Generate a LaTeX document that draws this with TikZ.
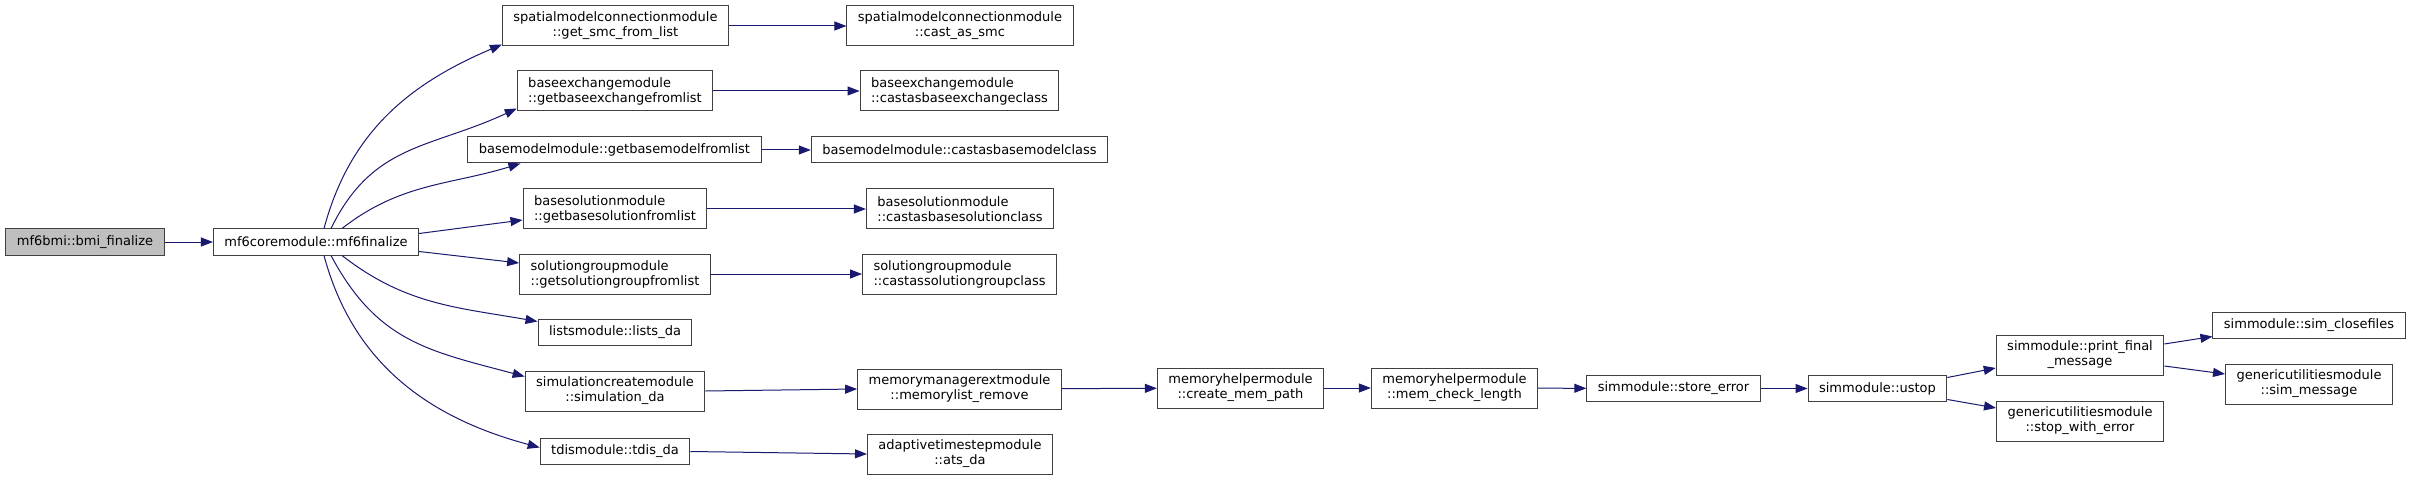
\documentclass[tikz,border=0pt]{standalone}
\usepackage{fontspec}
\setmainfont{DejaVu Sans}
\usetikzlibrary{arrows.meta}
\definecolor{edgeblue}{RGB}{25,25,112}
\definecolor{nodegray}{RGB}{191,191,191}
\tikzset{
  fn/.style={draw=black!75,line width=1pt,fill=white,inner xsep=11pt,inner ysep=3pt,
    minimum height=26pt,align=center,font=\fontsize{13}{15}\selectfont},
  fntall/.style={fn,minimum height=40pt},
  fnleft/.style={fntall,align=left},
  call/.style={draw=edgeblue,line width=1pt,-{Triangle[length=12pt,width=9pt]}}
}
\begin{document}
\begin{tikzpicture}[x=1pt,y=1pt]
  \useasboundingbox[fill=white] (0,0) rectangle (2412,480);
  \node[fn,fill=nodegray] (bmi) at (85,238) {mf6bmi::bmi\_finalize};
  \node[fn] (mf6) at (316,238) {mf6coremodule::mf6finalize};
  \node[fntall] (getsmc) at (615.5,454) {spatialmodelconnectionmodule\\::get\_smc\_from\_list};
  \node[fnleft] (getbex) at (615,389) {baseexchangemodule\\::getbaseexchangefromlist};
  \node[fn] (getbm) at (614.5,330) {basemodelmodule::getbasemodelfromlist};
  \node[fnleft] (getbs) at (615,271) {basesolutionmodule\\::getbasesolutionfromlist};
  \node[fnleft] (getsg) at (615,206) {solutiongroupmodule\\::getsolutiongroupfromlist};
  \node[fn] (lists) at (615,148) {listsmodule::lists\_da};
  \node[fntall] (simda) at (615,89) {simulationcreatemodule\\::simulation\_da};
  \node[fn] (tdis) at (615,28.5) {tdismodule::tdis\_da};
  \node[fntall] (castsmc) at (960,454) {spatialmodelconnectionmodule\\::cast\_as\_smc};
  \node[fnleft] (castbex) at (959.5,389) {baseexchangemodule\\::castasbaseexchangeclass};
  \node[fn] (castbm) at (959.5,330) {basemodelmodule::castasbasemodelclass};
  \node[fnleft] (castbs) at (960,271) {basesolutionmodule\\::castasbasesolutionclass};
  \node[fnleft] (castsg) at (959.5,206) {solutiongroupmodule\\::castassolutiongroupclass};
  \node[fntall] (memrm) at (959.5,91) {memorymanagerextmodule\\::memorylist\_remove};
  \node[fntall] (atsda) at (960,26) {adaptivetimestepmodule\\::ats\_da};
  \node[fntall] (mempath) at (1240.5,92) {memoryhelpermodule\\::create\_mem\_path};
  \node[fntall] (memlen) at (1454.5,92) {memoryhelpermodule\\::mem\_check\_length};
  \node[fn] (storeerr) at (1673.5,91.5) {simmodule::store\_error};
  \node[fn] (ustop) at (1877.5,91.5) {simmodule::ustop};
  \node[fntall] (finalmsg) at (2080,125) {simmodule::print\_final\\\_message};
  \node[fntall] (stoperr) at (2080,59) {genericutilitiesmodule\\::stop\_with\_error};
  \node[fn] (closefiles) at (2309,154.5) {simmodule::sim\_closefiles};
  \node[fntall] (simmsg) at (2309,96) {genericutilitiesmodule\\::sim\_message};
  \draw[call] (bmi) -- (mf6);
  \draw[call] ([xshift=8pt]mf6.north) to[out=75,in=203] ([yshift=2pt]getsmc.south west);
  \draw[call] ([xshift=15pt]mf6.north) to[out=64,in=205,looseness=1.1] ([yshift=3pt]getbex.south west);
  \draw[call] ([xshift=26pt]mf6.north) to[out=38,in=197] ([xshift=53pt]getbm.south west);
  \draw[call] ([yshift=-5pt]mf6.north east) -- ([yshift=-11pt]getbs.west);
  \draw[call] ([yshift=4pt]mf6.south east) -- ([yshift=11pt]getsg.west);
  \draw[call] ([xshift=26pt]mf6.south) to[out=-38,in=170] ([yshift=-3pt]lists.north west);
  \draw[call] ([xshift=15pt]mf6.south) to[out=-62,in=165,looseness=1.1] ([yshift=-6pt]simda.north west);
  \draw[call] ([xshift=8pt]mf6.south) to[out=-75,in=165] ([yshift=4pt]tdis.west);
  \draw[call] (getsmc) -- (castsmc);
  \draw[call] (getbex) -- (castbex);
  \draw[call] (getbm) -- (castbm);
  \draw[call] (getbs) -- (castbs);
  \draw[call] (getsg) -- (castsg);
  \draw[call] (simda.east) -- (memrm.west);
  \draw[call] (tdis.east) -- (atsda.west);
  \draw[call] (memrm) -- (mempath);
  \draw[call] (mempath) -- (memlen);
  \draw[call] (memlen) -- (storeerr);
  \draw[call] (storeerr) -- (ustop);
  \draw[call] ([yshift=11pt]ustop.east) -- ([yshift=-13pt]finalmsg.west);
  \draw[call] ([yshift=-11pt]ustop.east) -- ([yshift=13pt]stoperr.west);
  \draw[call] ([yshift=11pt]finalmsg.east) -- ([yshift=-11pt]closefiles.west);
  \draw[call] ([yshift=-11pt]finalmsg.east) -- ([yshift=10pt]simmsg.west);
\end{tikzpicture}
\end{document}
